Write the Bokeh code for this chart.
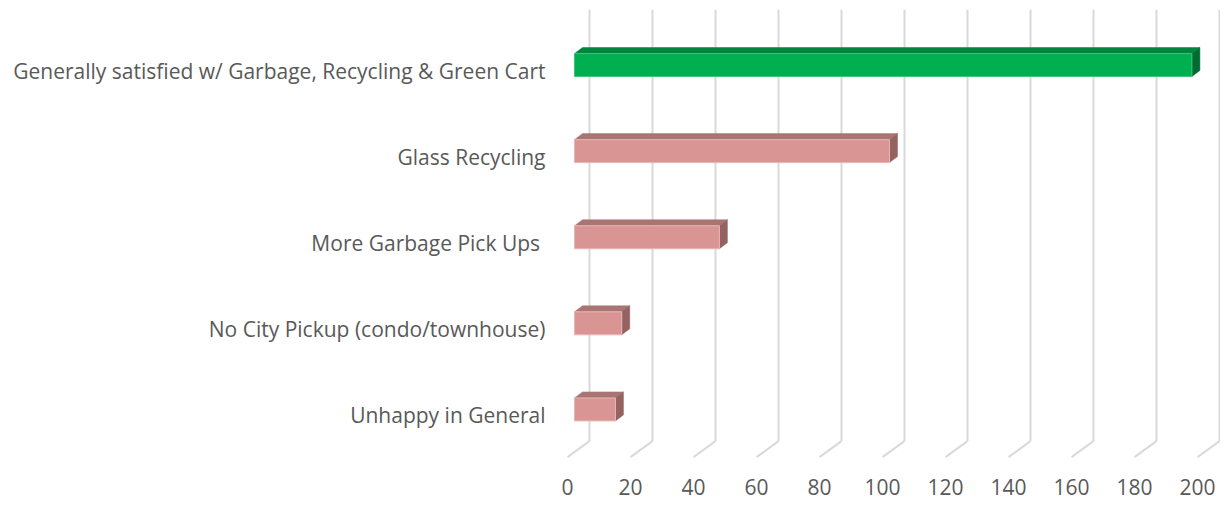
from bokeh.plotting import figure
from bokeh.models import FixedTicker, Range1d
from bokeh.embed import file_html
from bokeh.resources import INLINE

# ---- data ----
categories = [
    "Unhappy in General",
    "No City Pickup (condo/townhouse)",
    "More Garbage Pick Ups ",
    "Glass Recycling",
    "Generally satisfied w/ Garbage, Recycling & Green Cart",
]
values = [13, 15, 46, 100, 196]
x_ticks = [0, 20, 40, 60, 80, 100, 120, 140, 160, 180, 200]

# ---- style / 3D geometry (data units) ----
FONT = "Open Sans"
TXT = "#595959"
GRID = "#d9d9d9"
PINK = ("#d99594", "#a97573", "#946260")     # front, top, side
GREEN = ("#00b050", "#00853e", "#006b30")

bar_x0 = 2.22      # bar front face starts slightly inside the floor
bar_h = 0.267      # front face height (category units)
bar_off = 0.07     # bar centre above label centre
bdx, bdy = 2.54, 0.07   # bar depth offset
gdx, gdy = 6.98, 0.186  # floor depth offset
wall_bottom = -0.2985
Y_TOP = 4.715

W, H = 1220, 500
p = figure(width=W, height=H, output_backend="svg", toolbar_location=None,
           x_range=Range1d(-3.81, -3.81 + (W - 555) / 3.15),
           y_range=Range1d(-0.5, Y_TOP),
           min_border_left=555, min_border_right=0, min_border_top=9,
           min_border_bottom=H - 458)
p.outline_line_color = None
p.xgrid.visible = False
p.ygrid.visible = False
p.background_fill_color = "white"

# back-wall gridlines and floor diagonals
bx = [t + gdx for t in x_ticks]
p.segment(x0=bx, y0=[wall_bottom] * len(bx), x1=bx, y1=[Y_TOP] * len(bx),
          line_color=GRID, line_width=2)
p.segment(x0=bx, y0=[wall_bottom] * len(bx), x1=x_ticks,
          y1=[wall_bottom - gdy] * len(bx), line_color=GRID, line_width=2)

# bars
fx, fy, tx, ty, sx, sy = [], [], [], [], [], []
fc, tc, sc, lc = [], [], [], []
vmax = max(values)
for i, v in enumerate(values):
    c = i + bar_off
    lo, hi = c - bar_h / 2, c + bar_h / 2
    a, b = bar_x0, bar_x0 + v
    fx.append([a, b, b, a]); fy.append([lo, lo, hi, hi])
    tx.append([a, b, b + bdx, a + bdx]); ty.append([hi, hi, hi + bdy, hi + bdy])
    sx.append([b, b + bdx, b + bdx, b]); sy.append([lo, lo + bdy, hi + bdy, hi])
    col = GREEN if v == vmax else PINK
    fc.append(col[0]); tc.append(col[1]); sc.append(col[2])
    lc.append("#3dc47a" if v == vmax else "#e8b5b4")

p.patches(xs=tx, ys=ty, fill_color=tc, line_color=tc, line_width=0.5)
p.patches(xs=sx, ys=sy, fill_color=sc, line_color=sc, line_width=0.5)
p.patches(xs=fx, ys=fy, fill_color=fc, line_color=lc, line_width=1)

# axes
p.xaxis.ticker = FixedTicker(ticks=x_ticks)
p.xaxis.axis_line_color = None
p.xaxis.major_tick_line_color = None
p.xaxis.minor_tick_line_color = None
p.xaxis.major_tick_out = 0
p.xaxis.major_tick_in = 0
p.xaxis.major_label_standoff = 20
p.xaxis.major_label_text_font = FONT
p.xaxis.major_label_text_font_size = "21px"
p.xaxis.major_label_text_color = TXT

p.yaxis.ticker = FixedTicker(ticks=list(range(len(categories))))
p.yaxis.major_label_overrides = {i: c for i, c in enumerate(categories)}
p.yaxis.axis_line_color = None
p.yaxis.major_tick_line_color = None
p.yaxis.minor_tick_line_color = None
p.yaxis.major_tick_out = 0
p.yaxis.major_tick_in = 0
p.yaxis.major_label_standoff = 10
p.yaxis.major_label_text_font = FONT
p.yaxis.major_label_text_font_size = "21px"
p.yaxis.major_label_text_color = TXT

open("out.html", "w").write(file_html(p, INLINE))
